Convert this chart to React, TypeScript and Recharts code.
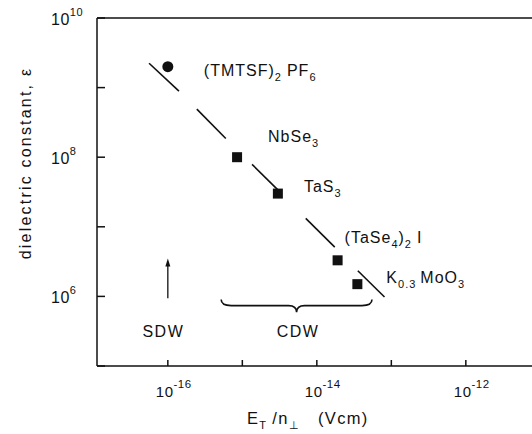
import React from "react";
import {
  ScatterChart,
  Scatter,
  XAxis,
  YAxis,
  ReferenceLine,
  ReferenceDot,
  ReferenceArea,
} from "recharts";

// materials, threshold field E_T/n (Vcm) and dielectric constant
const MATERIALS = ["(TMTSF)2PF6", "NbSe3", "TaS3", "(TaSe4)2I", "K0.3MoO3"];
const E_T = [1.0e-16, 8.5e-16, 3.0e-15, 1.9e-14, 3.5e-14];
const EPSILON = [2.0e9, 1.0e8, 3.0e7, 3.3e6, 1.5e6];
const KIND = ["SDW", "CDW", "CDW", "CDW", "CDW"];

// the broken line eps ~ 1/E_T, one entry per drawn piece
const LINE_PIECES = [
  [5.6e-17, 2.24e9, 1.41e-16, 8.9e8],
  [2.45e-16, 4.9e8, 6.0e-16, 1.86e8],
  [1.35e-15, 7.9e7, 3.0e-15, 3.4e7],
  [7.1e-15, 1.32e7, 1.74e-14, 5.1e6],
  [3.55e-14, 2.34e6, 8.1e-14, 9.8e5],
];

const X_DOMAIN = [1.12e-17, 1.12e-11];
const X_TICKS = [1e-16, 1e-15, 1e-14, 1e-13, 1e-12, 1e-11];
const X_LABELED = [1e-16, 1e-14, 1e-12];
const Y_TICKS = [1e5, 1e6, 1e7, 1e8, 1e9, 1e10];
const Y_LABELED = [1e6, 1e8, 1e10];

// formula pieces: [text, isSubscript, gap before]
const FORMULAS: Record<string, [string, boolean, number][]> = {
  "(TMTSF)2PF6": [["(TMTSF)", false, 0], ["2", true, 0], ["PF", false, 5], ["6", true, 0]],
  NbSe3: [["NbSe", false, 0], ["3", true, 0]],
  TaS3: [["TaS", false, 0], ["3", true, 0]],
  "(TaSe4)2I": [["(TaSe", false, 0], ["4", true, 0], [")", false, 0], ["2", true, 0], ["I", false, 5]],
  "K0.3MoO3": [["K", false, 0], ["0.3", true, 0], ["MoO", false, 4], ["3", true, 0]],
};

// label offset from the marker, pixels
const LABEL_OFFSET: Record<string, [number, number]> = {
  "(TMTSF)2PF6": [36, 9],
  NbSe3: [31, -15],
  TaS3: [26, -2],
  "(TaSe4)2I": [7, -17],
  "K0.3MoO3": [29, -1],
};

const INK = "#111";
const FONT = "'Liberation Sans', Arial, sans-serif";

const data = MATERIALS.map((name, i) => ({
  name,
  x: E_T[i],
  y: EPSILON[i],
  kind: KIND[i],
}));

const exp10 = (v: number) => Math.round(Math.log10(v));

function Formula({ x, y, parts }: { x: number; y: number; parts: [string, boolean, number][] }) {
  let prevSub = false;
  return (
    <text x={x} y={y} fill={INK} fontSize={16} fontFamily={FONT} letterSpacing={1}>
      {parts.map(([t, sub, gap], i) => {
        const dy = sub && !prevSub ? 5 : !sub && prevSub ? -5 : 0;
        prevSub = sub;
        return (
          <tspan key={i} dy={dy} dx={gap} fontSize={sub ? 11 : 16}>
            {t}
          </tspan>
        );
      })}
    </text>
  );
}

function Marker(props: any) {
  const { cx, cy, payload } = props;
  const [dx, dy] = LABEL_OFFSET[payload.name];
  return (
    <g>
      {payload.kind === "SDW" ? (
        <circle cx={cx} cy={cy} r={5.5} fill={INK} />
      ) : (
        <rect x={cx - 5} y={cy - 5} width={10} height={10} fill={INK} />
      )}
      <Formula x={cx + dx} y={cy + dy} parts={FORMULAS[payload.name]} />
    </g>
  );
}

function BottomTick(props: any) {
  const { x, y, payload } = props;
  const v = payload.value;
  return (
    <g>
      <line x1={x} y1={y} x2={x} y2={y - 6} stroke={INK} strokeWidth={1.5} />
      {X_LABELED.some((l) => exp10(l) === exp10(v)) && (
        <text x={x - 12} y={y + 31} fill={INK} fontSize={15} fontFamily={FONT} letterSpacing={0.5}>
          <tspan>10</tspan>
          <tspan dy={-9} fontSize={11.5}>{`-${-exp10(v)}`}</tspan>
        </text>
      )}
    </g>
  );
}

function TopTick(props: any) {
  const { x, y } = props;
  return <line x1={x} y1={y} x2={x} y2={y + 5} stroke={INK} strokeWidth={1.5} />;
}

function LeftTick(props: any) {
  const { x, y, payload } = props;
  const v = payload.value;
  return (
    <g>
      <line x1={x} y1={y} x2={x + 8} y2={y} stroke={INK} strokeWidth={1.5} />
      {Y_LABELED.some((l) => exp10(l) === exp10(v)) && (
        <text x={x - 46} y={y + 7} fill={INK} fontSize={16} fontFamily={FONT} letterSpacing={0.5}>
          <tspan>10</tspan>
          <tspan dy={-9} fontSize={11}>{exp10(v)}</tspan>
        </text>
      )}
    </g>
  );
}

function XTitle(props: any) {
  const { viewBox } = props;
  const y = viewBox.y + 58;
  return (
    <text x={247} y={y} fill={INK} fontSize={16.5} fontFamily={FONT} letterSpacing={1.3}>
      <tspan>E</tspan>
      <tspan dy={5} fontSize={11}>T</tspan>
      <tspan dy={-5} dx={5}>/n</tspan>
      <tspan dy={5} fontSize={11}>⊥</tspan>
      <tspan dy={-5} dx={18}>(Vcm)</tspan>
    </text>
  );
}

function YTitle() {
  return (
    <text
      x={25}
      y={163}
      transform="rotate(-90 25 163)"
      textAnchor="middle"
      dominantBaseline="central"
      fill={INK}
      fontSize={16}
      fontFamily={FONT}
      letterSpacing={2.2}
    >
      dielectric constant, ε
    </text>
  );
}

function Arrow(props: any) {
  const { x1, y1, x2, y2 } = props;
  const top = Math.min(y1, y2);
  const bottom = Math.max(y1, y2);
  return (
    <g>
      <line x1={x1} y1={bottom} x2={x2} y2={top + 4} stroke={INK} strokeWidth={1.3} />
      <path d={`M${x1},${top} L${x1 - 2.5},${top + 8} L${x1 + 2.5},${top + 8} Z`} fill={INK} />
    </g>
  );
}

function Brace(props: any) {
  const { x, y, width, height } = props;
  const x0 = x;
  const x1 = x + width;
  const xm = x + width / 2;
  const yh = y + 6;
  const yb = y + height;
  const d = `M${x0},${y} Q${x0},${yh} ${x0 + 10},${yh} L${xm - 8},${yh} Q${xm},${yh} ${xm},${yb} Q${xm},${yh} ${xm + 8},${yh} L${x1 - 10},${yh} Q${x1},${yh} ${x1},${y}`;
  return <path d={d} fill="none" stroke={INK} strokeWidth={1.6} />;
}

function TextLabel(text: string) {
  return (props: any) => {
    const { viewBox } = props;
    return (
      <text
        x={viewBox.x}
        y={viewBox.y}
        textAnchor="middle"
        dominantBaseline="central"
        fill={INK}
        fontSize={16}
        fontFamily={FONT}
        letterSpacing={1.5}
      >
        {text}
      </text>
    );
  };
}

export default function App() {
  return (
    <div
      style={{
        position: "fixed",
        left: 0,
        top: 0,
        width: 532,
        height: 434,
        overflow: "hidden",
        background: "#fff",
      }}
    >
      <ScatterChart width={560} height={434} margin={{ top: 8, right: 16, bottom: 38, left: 37 }}>
        <XAxis
          xAxisId="bottom"
          dataKey="x"
          type="number"
          scale="log"
          domain={X_DOMAIN}
          ticks={X_TICKS}
          orientation="bottom"
          height={30}
          tickSize={0}
          tickMargin={0}
          tickLine={false}
          tick={<BottomTick />}
          axisLine={{ stroke: INK, strokeWidth: 1.5 }}
          allowDataOverflow
          interval={0}
          label={<XTitle />}
        />
        <XAxis
          xAxisId="top"
          type="number"
          scale="log"
          domain={X_DOMAIN}
          ticks={X_TICKS}
          orientation="top"
          height={10}
          tickSize={0}
          tickMargin={0}
          tickLine={false}
          tick={<TopTick />}
          axisLine={{ stroke: INK, strokeWidth: 1.5 }}
          allowDataOverflow
          interval={0}
        />
        <YAxis
          dataKey="y"
          type="number"
          scale="log"
          domain={[1e5, 1e10]}
          ticks={Y_TICKS}
          width={60}
          tickSize={0}
          tickMargin={0}
          tickLine={false}
          tick={<LeftTick />}
          axisLine={{ stroke: INK, strokeWidth: 1.5 }}
          allowDataOverflow
          interval={0}
          label={<YTitle />}
        />
        {LINE_PIECES.map(([xa, ya, xb, yb], i) => (
          <ReferenceLine
            key={i}
            xAxisId="bottom"
            segment={[
              { x: xa, y: ya },
              { x: xb, y: yb },
            ]}
            stroke={INK}
            strokeWidth={1.6}
          />
        ))}
        <ReferenceLine
          xAxisId="bottom"
          segment={[
            { x: 1e-16, y: 9.4e5 },
            { x: 1e-16, y: 3.5e6 },
          ]}
          shape={<Arrow />}
        />
        <ReferenceArea
          xAxisId="bottom"
          x1={5.2e-16}
          x2={5.5e-14}
          y1={9.0e5}
          y2={5.9e5}
          shape={<Brace />}
        />
        <ReferenceDot xAxisId="bottom" x={8.7e-17} y={3.1e5} r={0} label={TextLabel("SDW")} />
        <ReferenceDot xAxisId="bottom" x={5.6e-15} y={3.1e5} r={0} label={TextLabel("CDW")} />
        <Scatter
          xAxisId="bottom"
          data={data}
          isAnimationActive={false}
          shape={<Marker />}
        />
      </ScatterChart>
    </div>
  );
}
